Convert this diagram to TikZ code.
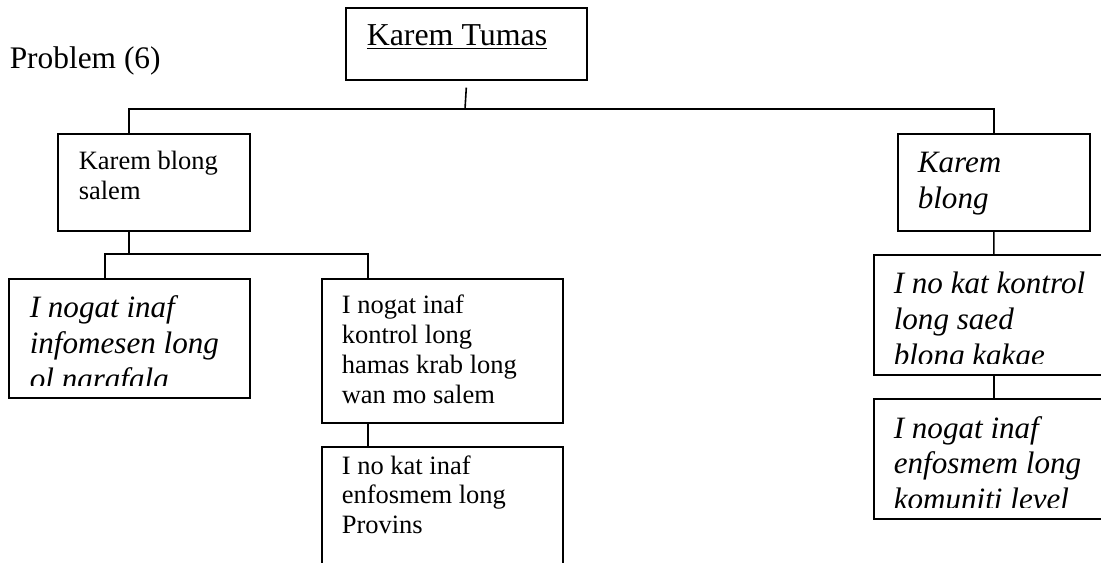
\documentclass[tikz,border=0pt]{standalone}
\usepackage{fontspec}
\setmainfont{Liberation Serif}
\usetikzlibrary{calc}
\begin{document}
\begin{tikzpicture}[x=1bp,y=-1bp, line width=1.6bp,
  box/.style={draw, rectangle, inner sep=0, anchor=north west},
  up/.style={font=\fontsize{26.6}{30}\selectfont, anchor=base west, inner sep=0},
  it/.style={font=\fontsize{31.2}{36}\selectfont\itshape, anchor=base west, inner sep=0}]
\useasboundingbox (0,0) rectangle (1101,563);
\clip (0,0) rectangle (1101,563);
% title
\node[font=\fontsize{31.5}{36}\selectfont, anchor=base west, inner sep=0] (title) at (9,69) {Problem (6)};
% boxes
\node[box, minimum width=241bp, minimum height=72bp] (top) at (345,7) {};
\node[box, minimum width=192bp, minimum height=97bp] (A) at (57,133) {};
\node[box, minimum width=241bp, minimum height=119bp] (A1) at (8,278) {};
\node[box, minimum width=241bp, minimum height=144bp] (A2) at (321,278) {};
\node[box, minimum width=241bp, minimum height=140bp] (A3) at (321,446) {};
\node[box, minimum width=192bp, minimum height=97bp] (B) at (897,133) {};
\node[box, minimum width=240bp, minimum height=120bp] (B1) at (873,254) {};
\node[box, minimum width=240bp, minimum height=120bp] (B2) at (873,398) {};
% texts
\node[font=\fontsize{32}{36}\selectfont, anchor=base west, inner sep=0] (ttop) at (366,46) {\underline{Karem Tumas}};
\node[up] (tA) at (78,170) {\parbox[t]{300bp}{\raggedright Karem blong\\salem}};
\begin{scope}
  \clip (A1.north west) rectangle ($(A1.south east)+(0,-13)$);
  \node[it] (tA1) at (29,318) {\parbox[t]{300bp}{\raggedright I nogat inaf\\infomesen long\\ol narafala}};
\end{scope}
\node[up] (tA2) at (341,314) {\parbox[t]{300bp}{\raggedright I nogat inaf\\kontrol long\\hamas krab long\\wan mo salem}};
\node[up] (tA3) at (341,474) {\parbox[t]{300bp}{\raggedright I no kat inaf\\enfosmem long\\Provins}};
\node[it] (tB) at (917,173) {\parbox[t]{300bp}{\raggedright Karem\\blong}};
\begin{scope}
  \clip (B1.north west) rectangle ($(B1.south east)+(0,-12)$);
  \node[it] (tB1) at (893,294) {\parbox[t]{300bp}{\raggedright I no kat kontrol\\long saed\\blong kakae}};
\end{scope}
\begin{scope}
  \clip (B2.north west) rectangle ($(B2.south east)+(0,-12)$);
  \node[it] (tB2) at (893,438) {\parbox[t]{300bp}{\raggedright I nogat inaf\\enfosmem long\\komuniti level}};
\end{scope}
% connectors
\coordinate (j0) at (465,109);
\coordinate (j1) at (129,254);
\draw ($(top.south)+(0,7)$) -- (j0);
\draw ($(A.north west)+(72,0)$) |- (j0) -| (B.north);
\draw ($(A.south west)+(72,0)$) -- (j1);
\draw ($(A1.north west)+(97,0)$) |- (j1) -| ($(A2.north west)+(47,0)$);
\draw ($(A2.south west)+(47,0)$) -- ($(A3.north west)+(47,0)$);
\draw (B.south) -- (B1.north);
\draw (B1.south) -- (B2.north);
\end{tikzpicture}
\end{document}
